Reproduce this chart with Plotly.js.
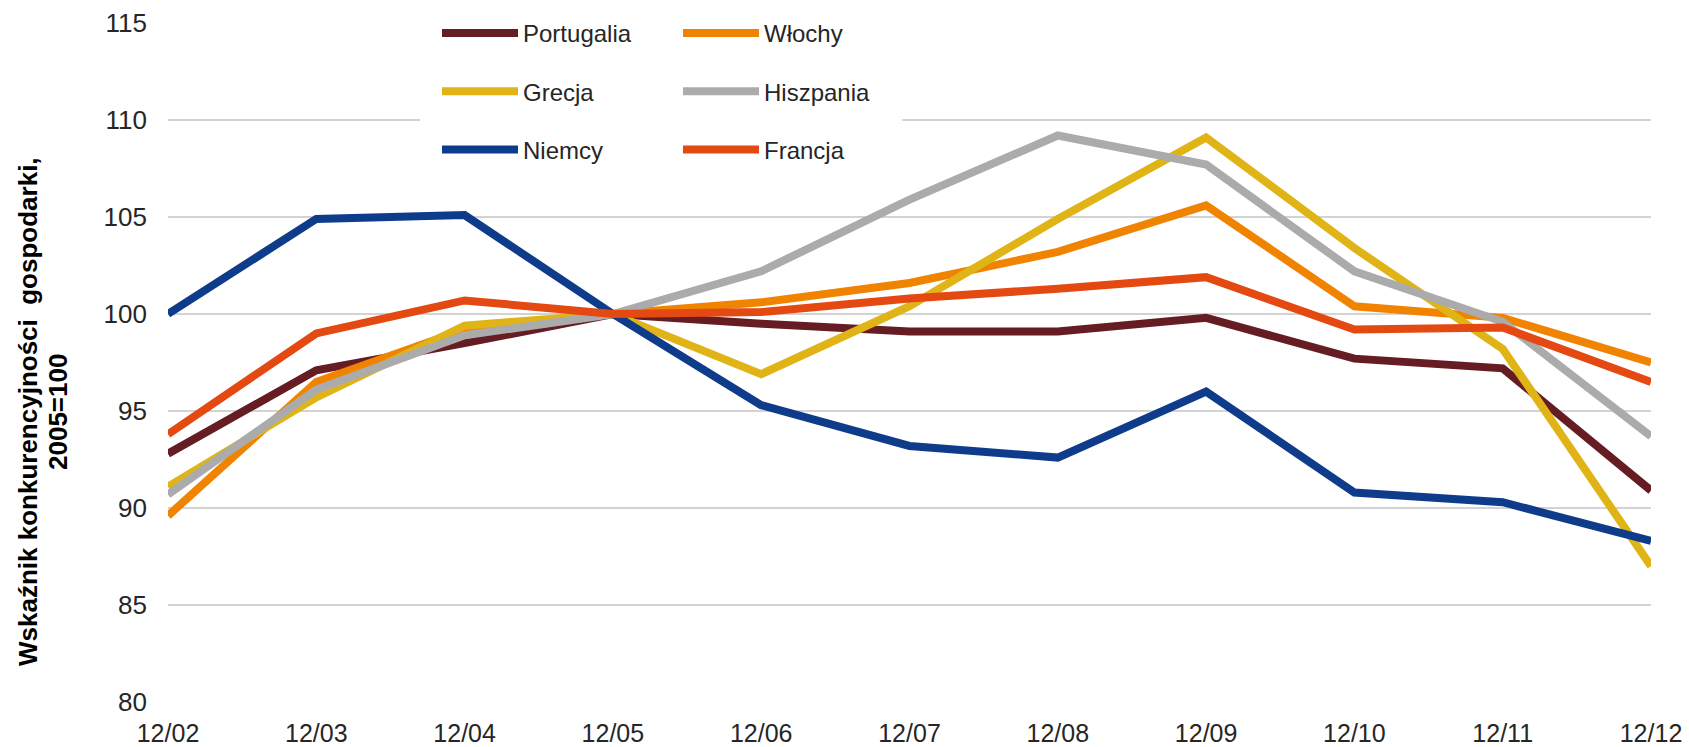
<!DOCTYPE html>
<html>
<head>
<meta charset="utf-8">
<script src="https://cdn.plot.ly/plotly-3.0.1.min.js"></script>
<style>html,body{margin:0;padding:0;background:#fff;}#chart{width:1689px;height:747px;}</style>
</head>
<body>
<div id="chart"></div>
<script>
const categories = ["12/02","12/03","12/04","12/05","12/06","12/07","12/08","12/09","12/10","12/11","12/12"];
const portugalia = [92.8, 97.1, 98.5, 100, 99.5, 99.1, 99.1, 99.8, 97.7, 97.2, 90.9];
const wlochy     = [89.6, 96.5, 99.2, 100, 100.6, 101.6, 103.2, 105.6, 100.4, 99.8, 97.5];
const grecja     = [91.1, 95.7, 99.4, 100, 96.9, 100.4, 104.9, 109.1, 103.4, 98.2, 87.0];
const hiszpania  = [90.7, 96.1, 98.9, 100, 102.2, 105.9, 109.2, 107.7, 102.2, 99.6, 93.7];
const niemcy     = [100.0, 104.9, 105.1, 100, 95.3, 93.2, 92.6, 96.0, 90.8, 90.3, 88.3];
const francja    = [93.8, 99.0, 100.7, 100, 100.1, 100.8, 101.3, 101.9, 99.2, 99.3, 96.5];
const seriesNames = ["Portugalia","Włochy","Grecja","Hiszpania","Niemcy","Francja"];
const yTickVals = [80, 85, 90, 95, 100, 105, 110, 115];
const yTitleLines = ["Wskaźnik konkurencyjności\u00a0 gospodarki,", "2005=100"];

const seriesData = [portugalia, wlochy, grecja, hiszpania, niemcy, francja];
const colors = ["#651d23", "#f08400", "#e0b417", "#ababab", "#0f3c8a", "#e44912"];
const legendIds = ["legend", "legend2", "legend", "legend2", "legend", "legend2"];

const traces = seriesData.map((vals, i) => ({
  type: "scatter",
  mode: "lines",
  x: categories,
  y: vals,
  name: seriesNames[i],
  legend: legendIds[i],
  legendgroup: "g" + i,
  line: {color: colors[i], width: 8},
  hoverinfo: "skip"
}));

const legendCommon = {
  bgcolor: "rgba(255,255,255,0)",
  borderwidth: 0,
  orientation: "v",
  xanchor: "left",
  yanchor: "top",
  tracegroupgap: 24,
  itemwidth: 76,
  font: {family: "Liberation Sans, Arial, sans-serif", size: 24, color: "#262626"}
};

const titleFont = {family: "Liberation Sans, Arial, sans-serif", size: 26, color: "#000000"};

const layout = {
  width: 1689,
  height: 747,
  margin: {l: 168, r: 38, t: 23, b: 45, pad: 0, autoexpand: false},
  paper_bgcolor: "#ffffff",
  plot_bgcolor: "#ffffff",
  showlegend: true,
  xaxis: {
    type: "category",
    range: [0, categories.length - 1],
    showgrid: false,
    zeroline: false,
    showline: false,
    ticks: "",
    ticklabelstandoff: 14,
    tickfont: {family: "Liberation Sans, Arial, sans-serif", size: 25, color: "#262626"}
  },
  yaxis: {
    range: [80, 115],
    tickvals: yTickVals,
    showgrid: true,
    gridcolor: "#d3d3d3",
    gridwidth: 1.5,
    zeroline: false,
    showline: false,
    ticks: "",
    ticklabelstandoff: 20,
    tickfont: {family: "Liberation Sans, Arial, sans-serif", size: 26, color: "#262626"}
  },
  legend: Object.assign({}, legendCommon, {x: 0.1814, y: 1.0177}),
  legend2: Object.assign({}, legendCommon, {x: 0.3439, y: 1.0177}),
  shapes: [{
    type: "rect",
    xref: "paper", yref: "paper",
    x0: (420 - 168) / 1483, x1: (902 - 168) / 1483,
    y0: (702 - 190) / 679, y1: 1.03,
    fillcolor: "#ffffff",
    line: {width: 0},
    layer: "above"
  }],
  annotations: [
    {
      xref: "paper", yref: "paper",
      x: (28 - 168) / 1483, y: (702 - 412) / 679,
      xanchor: "center", yanchor: "middle",
      textangle: -90, showarrow: false,
      text: "<b>" + yTitleLines[0] + "</b>",
      font: titleFont
    },
    {
      xref: "paper", yref: "paper",
      x: (58 - 168) / 1483, y: (702 - 412) / 679,
      xanchor: "center", yanchor: "middle",
      textangle: -90, showarrow: false,
      text: "<b>" + yTitleLines[1] + "</b>",
      font: titleFont
    }
  ]
};

Plotly.newPlot("chart", traces, layout, {displayModeBar: false, staticPlot: true});
</script>
</body>
</html>
